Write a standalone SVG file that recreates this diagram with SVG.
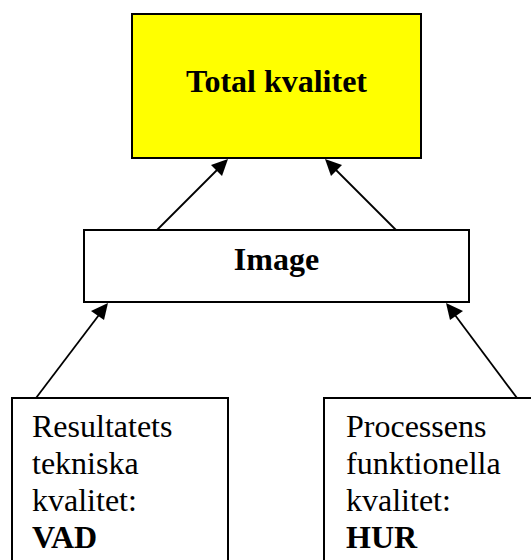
<svg xmlns="http://www.w3.org/2000/svg" width="531" height="560" viewBox="0 0 531 560">
<style>
.box{stroke:#000;stroke-width:2}
.t{font-family:'Liberation Serif','Times New Roman',serif;font-size:32px;fill:#000}
.b{font-weight:bold}
.c{stroke:#000;stroke-width:1.8;fill:none}
.ah{fill:#000}
</style>
<rect width="531" height="560" fill="#fff"/>
<g id="total">
<rect class="box" x="132" y="14" width="289" height="144" fill="#ffff00"/>
<text class="t b" x="276.5" y="92" text-anchor="middle">Total kvalitet</text>
</g>
<g id="image">
<rect class="box" x="84" y="230" width="385" height="72" fill="#fff"/>
<text class="t b" x="276.5" y="270" text-anchor="middle">Image</text>
</g>
<g id="vad">
<rect class="box" x="12" y="398" width="216" height="170" fill="#fff"/>
<text class="t" x="32" y="437">Resultatets</text>
<text class="t" x="32" y="474">tekniska</text>
<text class="t" x="32" y="511">kvalitet:</text>
<text class="t b" x="32" y="548">VAD</text>
</g>
<g id="hur">
<rect class="box" x="324" y="398" width="220" height="170" fill="#fff"/>
<text class="t" x="346" y="437">Processens</text>
<text class="t" x="346" y="474">funktionella</text>
<text class="t" x="346" y="511">kvalitet:</text>
<text class="t b" x="346" y="548">HUR</text>
</g>
<g id="connectors">
<line class="c" x1="157" y1="230" x2="224" y2="163"/>
<line class="c" x1="396" y1="230" x2="329" y2="163"/>
<line class="c" x1="36" y1="398" x2="105" y2="307"/>
<line class="c" x1="517" y1="398" x2="449" y2="307"/>
<polygon class="ah" points="228,159 222,176 211,165"/>
<polygon class="ah" points="325,159 342,165 331,176"/>
<polygon class="ah" points="108,303 104,320 91,311"/>
<polygon class="ah" points="446,303 463,311 450,320"/>
</g>
</svg>
